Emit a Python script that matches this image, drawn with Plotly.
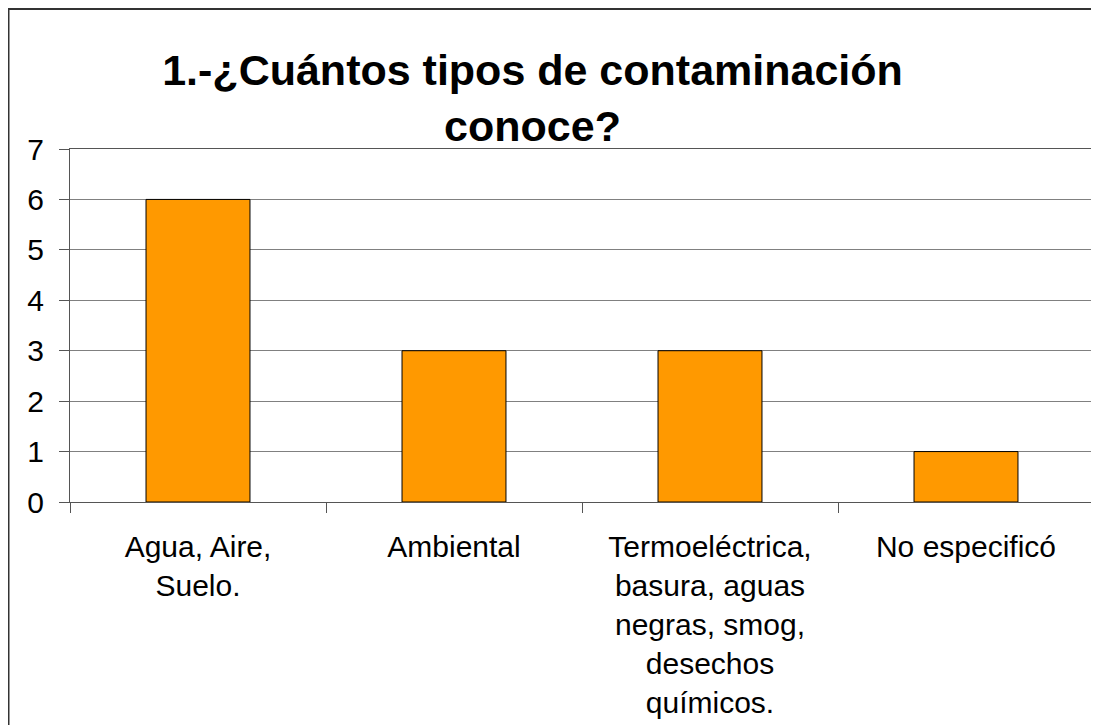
import plotly.graph_objects as go

categories = [
    "Agua, Aire,<br>Suelo.",
    "Ambiental",
    "Termoeléctrica,<br>basura, aguas<br>negras, smog,<br>desechos<br>químicos.",
    "No especificó",
]
values = [6, 3, 3, 1]
y_ticks = [0, 1, 2, 3, 4, 5, 6, 7]
title_text = "1.-¿Cuántos tipos de contaminación<br>conoce?"

FONT = "Arial, Liberation Sans, sans-serif"
W, H = 1099, 725
L, R, T, B = 62, 13, 141, 231
pw, ph = W - L - R, H - T - B

fig = go.Figure(
    go.Bar(
        x=categories,
        y=values,
        marker=dict(color="#FF9900", line=dict(color="#000000", width=1)),
    )
)

fig.update_layout(
    width=W,
    height=H,
    margin=dict(l=L, r=R, t=T, b=B, pad=0),
    paper_bgcolor="white",
    plot_bgcolor="white",
    bargap=0.594,
    showlegend=False,
    font=dict(family=FONT, size=30, color="black"),
    title=dict(
        text="<b>" + title_text + "</b>",
        font=dict(family=FONT, size=43, color="black"),
        x=(524.5 - L) / pw,
        xref="paper",
        xanchor="center",
        y=1 - 77 / H,
        yref="container",
        yanchor="top",
    ),
)

fig.update_xaxes(
    type="category",
    showline=True,
    linecolor="#555555",
    linewidth=1,
    mirror=True,
    ticks="outside",
    tickson="boundaries",
    ticklen=10,
    tickcolor="#555555",
    ticklabelstandoff=18,
    tickfont=dict(family=FONT, size=30, color="black"),
    showgrid=False,
)
fig.update_yaxes(
    range=[0, 7],
    tickvals=y_ticks,
    showline=True,
    linecolor="#555555",
    linewidth=1,
    mirror=True,
    ticks="outside",
    ticklen=10,
    tickcolor="#555555",
    showgrid=True,
    gridcolor="#808080",
    gridwidth=1,
    zeroline=False,
    ticklabelstandoff=9,
    tickfont=dict(family=FONT, size=30, color="black"),
)

# outer chart border (extends past right and bottom edges)
fig.add_shape(
    type="rect",
    xref="paper",
    yref="paper",
    x0=(0.5 - L) / pw,
    x1=(1120 - L) / pw,
    y0=-(760 - (H - B)) / ph,
    y1=((H - B) - 1) / ph,
    line=dict(color="#333333", width=2),
    fillcolor="rgba(0,0,0,0)",
    layer="below",
)

fig.write_html("out.html")
